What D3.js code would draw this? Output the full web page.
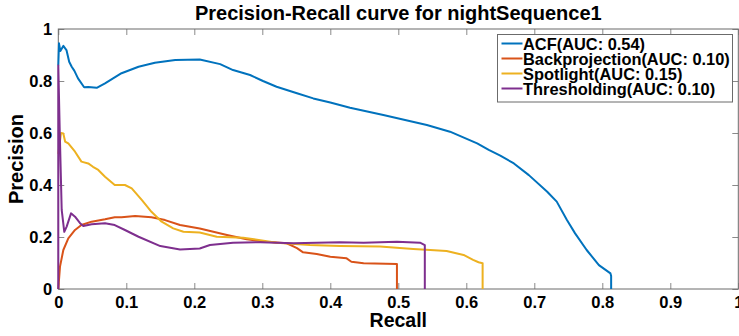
<!DOCTYPE html>
<html>
<head>
<meta charset="utf-8">
<script src="https://cdn.jsdelivr.net/npm/d3@7"></script>
<style>
  body { margin: 0; background: #fff; }
  svg { display: block; font-family: "Liberation Sans", Arial, Helvetica, sans-serif; font-weight: bold; }
</style>
</head>
<body>
<svg id="chart" width="739" height="336"></svg>
<script>
// series: [recall, precision]
const acf = [
    [0, 0.86], [0.001, 0.945], [0.003, 0.915], [0.0074, 0.935], [0.012, 0.919], [0.016, 0.874],
    [0.0197, 0.855], [0.0235, 0.84], [0.029, 0.81], [0.038, 0.776], [0.044, 0.777], [0.0565, 0.774],
    [0.0687, 0.791], [0.093, 0.83], [0.118, 0.855], [0.142, 0.87], [0.172, 0.881], [0.208, 0.883],
    [0.238, 0.865], [0.257, 0.842], [0.282, 0.823], [0.301, 0.80], [0.321, 0.778], [0.351, 0.753],
    [0.375, 0.733], [0.40, 0.717], [0.429, 0.697], [0.478, 0.669], [0.542, 0.631], [0.576, 0.605],
    [0.616, 0.56], [0.633, 0.535], [0.65, 0.513], [0.67, 0.483], [0.692, 0.438], [0.719, 0.374],
    [0.733, 0.336], [0.748, 0.265], [0.76, 0.214], [0.777, 0.15], [0.795, 0.092], [0.812, 0.06],
    [0.813, 0.05], [0.813, 0]
];
const backprojection = [
    [0, 0], [0.0025, 0.086], [0.0074, 0.15], [0.0147, 0.195], [0.0246, 0.227], [0.034, 0.246],
    [0.049, 0.259], [0.0687, 0.268], [0.083, 0.276], [0.093, 0.276], [0.113, 0.281], [0.137, 0.276],
    [0.157, 0.265], [0.179, 0.246], [0.208, 0.233], [0.248, 0.208], [0.277, 0.191], [0.306, 0.182],
    [0.336, 0.176], [0.351, 0.157], [0.36, 0.141], [0.38, 0.135], [0.40, 0.124], [0.424, 0.118],
    [0.431, 0.105], [0.449, 0.099], [0.498, 0.096], [0.498, 0]
];
const spotlight = [
    [0, 0.52], [0.004, 0.6], [0.0074, 0.598], [0.01, 0.567], [0.0147, 0.56], [0.0246, 0.528],
    [0.034, 0.49], [0.044, 0.483], [0.051, 0.47], [0.0588, 0.458], [0.0687, 0.432], [0.083, 0.40],
    [0.098, 0.40], [0.108, 0.387], [0.123, 0.342], [0.137, 0.297], [0.152, 0.259], [0.169, 0.233],
    [0.184, 0.22], [0.208, 0.217], [0.233, 0.201], [0.272, 0.197], [0.297, 0.188], [0.321, 0.178],
    [0.37, 0.169], [0.414, 0.165], [0.473, 0.163], [0.522, 0.154], [0.547, 0.15], [0.571, 0.146],
    [0.596, 0.131], [0.61, 0.112], [0.618, 0.103], [0.624, 0.099], [0.624, 0]
];
const thresholding = [
    [0, 0], [0, 0.86], [0.002, 0.62], [0.005, 0.304], [0.0088, 0.22], [0.0123, 0.24], [0.0187, 0.291],
    [0.0246, 0.278], [0.032, 0.253], [0.0368, 0.242], [0.049, 0.249], [0.0687, 0.253], [0.083, 0.246],
    [0.098, 0.227], [0.118, 0.201], [0.15, 0.165], [0.179, 0.152], [0.208, 0.156], [0.223, 0.169],
    [0.257, 0.178], [0.297, 0.18], [0.346, 0.176], [0.414, 0.18], [0.449, 0.178], [0.498, 0.182],
    [0.532, 0.178], [0.539, 0.169], [0.539, 0]
];

const seriesNames = ["ACF(AUC: 0.54)", "Backprojection(AUC: 0.10)", "Spotlight(AUC: 0.15)", "Thresholding(AUC: 0.10)"];
const seriesColors = ["#0072BD", "#D95319", "#EDB120", "#7E2F8E"];
const xTicks = [0, 0.1, 0.2, 0.3, 0.4, 0.5, 0.6, 0.7, 0.8, 0.9, 1];
const yTicks = [0, 0.2, 0.4, 0.6, 0.8, 1];

const svg = d3.select("#chart");
const margin = { top: 29, right: 0.7, bottom: 47, left: 58.3 },
    width = +svg.attr("width") - margin.left - margin.right,
    height = +svg.attr("height") - margin.top - margin.bottom;

const x = d3.scaleLinear().domain([0, 1]).range([margin.left, margin.left + width]);
const y = d3.scaleLinear().domain([0, 1]).range([margin.top + height, margin.top]);
const fmt = d3.format("~g");

function styleAxis(g) {
    g.select(".domain").remove();
    g.selectAll(".tick line").attr("stroke", "#8a8a8a");
    g.selectAll(".tick text").attr("fill", "#000").attr("font-size", "16.5px").attr("font-weight", "bold")
        .attr("font-family", "'Liberation Sans', Arial, sans-serif");
}

// axes with inward ticks (box on)
svg.append("g").attr("transform", `translate(0,${y(0)})`)
    .call(d3.axisBottom(x).tickValues(xTicks).tickFormat(fmt).tickSize(-6).tickPadding(7.3))
    .call(styleAxis);
svg.append("g").attr("transform", `translate(0,${y(1)})`)
    .call(d3.axisTop(x).tickValues(xTicks).tickFormat("").tickSize(-6))
    .call(styleAxis);
svg.append("g").attr("transform", `translate(${x(0)},0)`)
    .call(d3.axisLeft(y).tickValues(yTicks).tickFormat(fmt).tickSize(-6).tickPadding(6))
    .call(styleAxis);
svg.append("g").attr("transform", `translate(${x(1)},0)`)
    .call(d3.axisRight(y).tickValues(yTicks).tickFormat("").tickSize(-6))
    .call(styleAxis);

// box
svg.append("rect")
    .attr("x", x(0)).attr("y", y(1))
    .attr("width", x(1) - x(0)).attr("height", y(0) - y(1))
    .attr("fill", "none").attr("stroke", "#6b6b6b").attr("stroke-width", 1);

// curves
const line = d3.line().x(d => x(d[0])).y(d => y(d[1]));
const allSeries = [acf, backprojection, spotlight, thresholding];
svg.append("g").selectAll("path")
    .data(allSeries)
    .enter().append("path")
    .attr("d", line)
    .attr("fill", "none")
    .attr("stroke", (d, i) => seriesColors[i])
    .attr("stroke-width", 2)
    .attr("stroke-linejoin", "round");

// title & labels
svg.append("text")
    .attr("x", (x(0) + x(1)) / 2).attr("y", 19.5)
    .attr("text-anchor", "middle").attr("font-size", "20px")
    .text("Precision-Recall curve for nightSequence1");
svg.append("text")
    .attr("x", (x(0) + x(1)) / 2).attr("y", 327)
    .attr("text-anchor", "middle").attr("font-size", "19.5px")
    .text("Recall");
svg.append("text")
    .attr("transform", `translate(22.7,${(y(0) + y(1)) / 2}) rotate(-90)`)
    .attr("text-anchor", "middle").attr("font-size", "20px")
    .text("Precision");

// legend
const legend = svg.append("g").attr("transform", "translate(497.5,34.5)");
legend.append("rect")
    .attr("width", 235).attr("height", 67.5)
    .attr("fill", "#fff").attr("stroke", "#6b6b6b").attr("stroke-width", 1);
const rows = legend.selectAll("g.row")
    .data(seriesNames)
    .enter().append("g")
    .attr("class", "row")
    .attr("transform", (d, i) => `translate(0,${9 + i * 15})`);
rows.append("line")
    .attr("x1", 4).attr("x2", 25)
    .attr("stroke", (d, i) => seriesColors[i]).attr("stroke-width", 2);
rows.append("text")
    .attr("x", 25.5).attr("y", 6)
    .attr("font-size", "16.4px")
    .text(d => d);
</script>
</body>
</html>
